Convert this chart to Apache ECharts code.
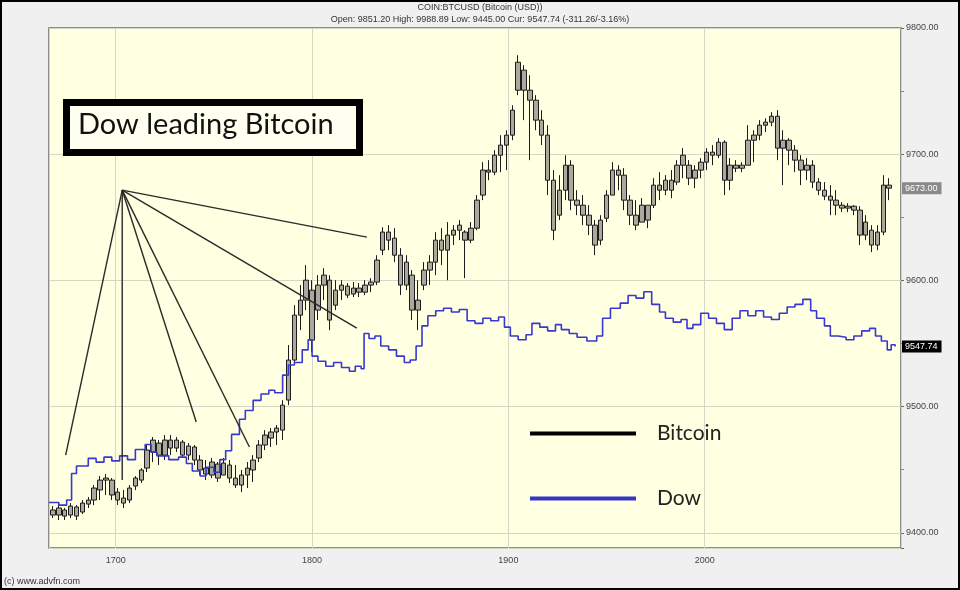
<!DOCTYPE html>
<html><head><meta charset="utf-8">
<script src="https://cdn.jsdelivr.net/npm/echarts@6/dist/echarts.min.js"></script>
<style>html,body{margin:0;padding:0;background:#f0f0f0}#chart{width:960px;height:590px}</style>
</head><body><div id="chart"></div>
<script>
// Bitcoin bars: [x, open, close, low, high]
const bitcoinBars = [
[1668,9418.1,9414.1,9411.7,9421.2],[1671,9414.1,9419.7,9410.2,9422.0],[1674,9418.1,9413.3,9410.2,9419.7],
[1677,9414.1,9421.2,9411.7,9423.6],[1680,9420.5,9413.3,9410.2,9422.0],[1683,9416.5,9423.6,9414.9,9426.0],
[1686,9422.8,9426.0,9419.7,9428.4],[1689,9426.0,9435.5,9422.0,9437.9],[1692,9434.0,9441.8,9426.0,9445.0],
[1695,9441.8,9443.4,9430.0,9446.6],[1698,9441.8,9430.0,9426.0,9443.4],[1701,9432.3,9426.0,9422.0,9435.5],
[1704,9427.6,9423.6,9419.7,9434.0],[1707,9426.0,9435.5,9423.6,9437.9],[1710,9437.1,9443.4,9433.9,9445.0],
[1713,9441.8,9449.8,9439.5,9451.3],[1716,9451.3,9465.6,9448.2,9469.6],[1719,9464.0,9473.5,9456.1,9475.9],
[1722,9471.1,9461.6,9453.7,9473.5],[1725,9461.6,9473.5,9457.7,9477.5],[1728,9473.5,9467.2,9461.6,9477.5],
[1731,9467.2,9473.5,9464.0,9475.9],[1734,9471.9,9461.6,9459.3,9473.5],[1737,9461.6,9468.8,9457.7,9471.1],
[1740,9468.0,9457.7,9453.7,9469.6],[1743,9457.7,9449.8,9445.8,9461.6],[1746,9451.3,9446.6,9441.8,9457.7],
[1749,9445.8,9456.1,9443.4,9459.3],[1752,9454.5,9443.4,9440.3,9456.1],[1755,9445.8,9455.3,9445.8,9459.3],
[1758,9453.7,9443.4,9439.5,9457.7],[1761,9443.4,9437.9,9435.5,9453.7],[1764,9437.9,9445.8,9432.3,9449.8],
[1767,9445.8,9451.3,9435.5,9456.1],[1770,9449.8,9457.7,9440.3,9461.6],[1773,9459.3,9469.6,9456.1,9473.5],
[1776,9469.6,9477.5,9465.6,9481.4],[1779,9475.1,9479.9,9468.0,9483.0],[1782,9479.9,9483.0,9469.6,9485.4],
[1785,9481.4,9501.2,9473.5,9505.2],[1788,9505.2,9536.9,9501.2,9548.8],[1791,9536.9,9572.5,9533.0,9580.4],
[1794,9572.5,9584.4,9560.6,9596.3],[1797,9584.4,9600.2,9576.5,9612.1],[1800,9592.3,9552.7,9543.2,9600.2],
[1803,9576.5,9596.3,9568.6,9604.2],[1806,9596.3,9604.2,9584.4,9609.7],[1809,9600.2,9568.6,9560.6,9604.2],
[1812,9580.4,9592.3,9576.5,9600.2],[1815,9592.3,9596.3,9584.4,9600.2],[1818,9595.5,9588.4,9586.0,9597.9],
[1821,9589.2,9593.9,9586.8,9598.7],[1824,9593.9,9590.7,9586.8,9597.9],[1827,9590.7,9596.3,9588.4,9600.2],
[1830,9596.3,9598.7,9590.7,9601.8],[1833,9598.7,9616.1,9596.3,9620.0],[1836,9624.0,9638.3,9620.0,9642.2],
[1839,9638.3,9631.9,9624.0,9643.8],[1842,9633.5,9620.0,9614.5,9641.4],[1845,9620.0,9596.3,9588.4,9625.6],
[1848,9596.3,9614.5,9592.3,9620.0],[1851,9604.2,9576.5,9568.6,9608.2],[1854,9576.5,9584.4,9560.6,9600.2],
[1857,9596.3,9608.2,9592.3,9614.5],[1860,9608.2,9614.5,9596.3,9620.0],[1863,9614.5,9631.9,9604.2,9638.3],
[1866,9631.9,9624.0,9612.1,9641.4],[1869,9624.0,9635.9,9600.2,9646.2],[1872,9635.9,9639.8,9628.0,9643.8],
[1875,9639.8,9643.8,9631.9,9647.8],[1878,9638.3,9631.9,9601.8,9639.8],[1881,9631.9,9641.4,9629.5,9646.2],
[1884,9641.4,9663.6,9639.8,9667.6],[1887,9667.6,9687.4,9663.6,9693.7],[1890,9687.4,9685.8,9679.4,9695.3],
[1893,9685.8,9699.2,9683.4,9703.2],[1896,9699.2,9707.2,9685.8,9715.1],[1899,9707.2,9715.1,9687.4,9719.0],
[1902,9715.1,9734.9,9711.1,9738.8],[1905,9750.7,9772.9,9746.8,9778.4],[1908,9766.6,9750.7,9727.0,9770.5],
[1911,9750.7,9742.8,9695.3,9762.6],[1914,9742.8,9727.0,9719.0,9746.8],[1917,9727.0,9715.1,9707.2,9734.9],
[1920,9715.1,9679.4,9667.6,9723.0],[1923,9679.4,9639.8,9631.9,9687.4],[1926,9651.7,9671.5,9647.8,9683.4],
[1929,9671.5,9691.3,9663.6,9699.2],[1932,9691.3,9663.6,9655.7,9695.3],[1935,9663.6,9659.6,9651.7,9671.5],
[1938,9659.6,9651.7,9643.8,9667.6],[1941,9651.7,9643.8,9635.9,9659.6],[1944,9643.8,9628.0,9620.0,9647.8],
[1947,9631.9,9647.8,9628.0,9651.7],[1950,9649.3,9667.6,9646.2,9671.5],[1953,9667.6,9687.4,9667.6,9693.7],
[1956,9687.4,9683.4,9671.5,9691.3],[1959,9683.4,9663.6,9655.7,9689.0],[1962,9663.6,9651.7,9643.8,9667.6],
[1965,9651.7,9643.8,9639.8,9663.6],[1968,9646.2,9659.6,9646.2,9665.2],[1971,9659.6,9647.8,9641.4,9659.6],
[1974,9659.6,9675.5,9657.3,9681.0],[1977,9675.5,9671.5,9663.6,9685.8],[1980,9671.5,9679.4,9667.6,9683.4],
[1983,9679.4,9671.5,9665.2,9687.4],[1986,9677.9,9691.3,9675.5,9695.3],[1989,9691.3,9699.2,9681.0,9704.8],
[1992,9691.3,9681.0,9675.5,9695.3],[1995,9681.0,9687.4,9673.1,9691.3],[1998,9687.4,9693.7,9681.0,9696.9],
[2001,9693.7,9701.6,9687.4,9704.8],[2004,9701.6,9699.2,9691.3,9707.2],[2007,9699.2,9709.5,9696.9,9712.7],
[2010,9709.5,9679.4,9667.6,9711.1],[2013,9679.4,9691.3,9671.5,9696.9],[2016,9691.3,9688.9,9685.8,9695.3],
[2019,9688.9,9691.3,9685.8,9693.7],[2022,9691.3,9711.1,9691.3,9723.0],[2025,9711.1,9715.1,9693.7,9719.0],
[2028,9715.1,9723.0,9711.1,9727.0],[2031,9723.0,9725.4,9717.5,9728.5],[2034,9725.4,9730.1,9722.2,9733.3],
[2037,9730.1,9704.8,9695.3,9734.9],[2040,9704.8,9711.1,9675.5,9719.0],[2043,9711.1,9703.2,9691.3,9712.7],
[2046,9703.2,9695.3,9685.8,9707.2],[2049,9695.3,9687.4,9675.5,9699.2],[2052,9687.4,9691.3,9679.4,9696.9],
[2055,9691.3,9677.9,9673.1,9695.3],[2058,9677.9,9671.5,9667.6,9681.0],[2061,9671.5,9666.8,9663.6,9677.9],
[2064,9666.8,9663.6,9651.7,9675.5],[2067,9663.6,9659.6,9651.7,9671.5],[2070,9659.6,9657.3,9654.1,9662.0],
[2073,9657.3,9658.8,9654.1,9661.2],[2076,9658.8,9655.7,9651.7,9659.6],[2079,9655.7,9635.9,9628.0,9658.8],
[2082,9635.9,9646.2,9631.9,9651.7],[2085,9639.8,9628.0,9622.4,9643.8],[2088,9628.0,9638.3,9624.0,9643.8],
[2091,9638.3,9675.5,9635.9,9683.4],[2094,9675.5,9673.1,9663.6,9681.0]
];
// Dow (scaled) step line: [x, value]
const dowSteps = [
[1666,9424],[1671,9422],[1675,9426],[1677.5,9447],[1680,9453],[1686,9459],[1690,9456],[1694,9460],[1698,9457],
[1702,9461],[1706,9458],[1710,9466],[1715,9470],[1718,9464],[1721,9461],[1727,9458],[1732,9460],[1736,9455],
[1739,9449],[1743,9445],[1746,9452],[1750,9448],[1753,9458],[1756,9465],[1759,9478],[1763,9490],[1766,9497],
[1770,9505],[1774,9510],[1778,9513],[1781,9511],[1785,9525],[1788,9533],[1791,9535],[1795,9545],[1798,9553],
[1800,9540],[1803,9536],[1807,9532],[1811,9535],[1815,9531],[1819,9528],[1822,9532],[1825,9530],[1826.5,9558],
[1829,9554],[1832,9556],[1835,9548],[1839,9545],[1843,9540],[1847,9535],[1850,9537],[1853,9548],[1856,9564],
[1859,9572],[1863,9576],[1867,9578],[1871,9575],[1875,9577],[1879,9568],[1883,9566],[1887,9570],[1891,9568],
[1895,9571],[1898,9563],[1901,9556],[1905,9553],[1909,9557],[1912,9566],[1916,9563],[1920,9560],[1924,9565],
[1927,9561],[1931,9558],[1935,9555],[1940,9552],[1945,9556],[1948,9570],[1952,9578],[1957,9582],[1961,9588],
[1965,9586],[1969,9591],[1973,9581],[1977,9575],[1980,9570],[1984,9567],[1988,9569],[1991,9562],[1994,9565],
[1998,9574],[2002,9570],[2006,9566],[2010,9561],[2014,9570],[2018,9576],[2022,9572],[2026,9576],[2030,9571],
[2034,9569],[2038,9574],[2042,9579],[2046,9581],[2050,9585],[2054,9576],[2057,9570],[2061,9564],[2064,9556],
[2068,9555],[2072,9553],[2076,9556],[2080,9560],[2084,9562],[2087,9556],[2090,9552],[2093,9545],[2095,9549],
[2097,9547.74]
];
// Hand-drawn fan lines: shared apex and end points
const trendApex = [1703.3, 9671.5];
const trendEnds = [[1674.5,9461.6],[1703.3,9441.8],[1741.0,9487.8],[1768.1,9468.0],[1822.8,9562.2],[1827.9,9634.3]];
const bitcoinLast = 9673.00;
const dowLast = 9547.74;
const headerTitle = 'COIN:BTCUSD (Bitcoin (USD))';
const headerStats = 'Open: 9851.20 High: 9988.89 Low: 9445.00 Cur: 9547.74 (-311.26/-3.16%)';
const annotationText = 'Dow leading Bitcoin';
const seriesNames = ['Bitcoin', 'Dow'];

const chart = echarts.init(document.getElementById('chart'));
const fanSeries = trendEnds.map(e => ({
  type: 'line', data: [trendApex, e], symbol: 'none', silent: true, z: 5,
  lineStyle: { color: '#2a2a2a', width: 1.4 }
}));
chart.setOption({
  animation: false,
  backgroundColor: '#f0f0f0',
  title: {
    text: headerTitle, subtext: headerStats, left: 'center', top: 1, itemGap: 3, padding: [2, 5],
    textStyle: { fontSize: 9, fontWeight: 'normal', color: '#333', fontFamily: 'Liberation Sans' },
    subtextStyle: { fontSize: 9, color: '#333', fontFamily: 'Liberation Sans' }
  },
  legend: {
    orient: 'vertical', left: 530, top: 423, padding: 0, itemWidth: 106, itemHeight: 4, itemGap: 44,
    selectedMode: false,
    textStyle: { fontSize: 21, color: '#222', fontFamily: 'Lato', padding: [0, 0, 0, 16] },
    data: [
      { name: seriesNames[0], icon: 'rect', itemStyle: { color: '#000', borderWidth: 0 } },
      { name: seriesNames[1], icon: 'rect', itemStyle: { color: '#3535c8', borderWidth: 0 } }
    ]
  },
  grid: { left: 49, right: 59, top: 28, bottom: 42, show: true, backgroundColor: '#ffffe1', borderColor: '#6a6a6a', borderWidth: 1.5 },
  xAxis: {
    type: 'value', min: 1666, max: 2100,
    axisLine: { show: false }, axisTick: { show: false },
    axisLabel: { showMinLabel: false, showMaxLabel: false, fontSize: 9, color: '#444', margin: 8, fontFamily: 'Liberation Sans',
      formatter: v => String(v) },
    splitLine: { lineStyle: { color: '#d6d6c4', width: 1 } }
  },
  yAxis: {
    type: 'value', position: 'right', min: 9388, max: 9800,
    axisLine: { show: false },
    axisTick: { show: true, length: 3, lineStyle: { color: '#666' } },
    minorTick: { show: true, splitNumber: 2, length: 3, lineStyle: { color: '#888' } },
    axisLabel: { showMinLabel: false, fontSize: 9, color: '#444', margin: 5, fontFamily: 'Liberation Sans',
      formatter: v => (v % 100 === 0 ? v.toFixed(2) : '') },
    splitLine: { lineStyle: { color: '#d6d6c4', width: 1 } }
  },
  series: [
    {
      name: seriesNames[0], type: 'candlestick', data: bitcoinBars, encode: { x: 0, y: [1, 2, 3, 4] },
      barWidth: 5, z: 3,
      itemStyle: { color: '#a9a99e', color0: '#a9a99e', borderColor: '#1c1c1c', borderColor0: '#1c1c1c', borderWidth: 1 },
      markLine: {
        silent: true, symbol: ['none', 'none'], lineStyle: { color: 'rgba(0,0,0,0)', width: 0 },
        label: { position: 'end', distance: 1, formatter: () => bitcoinLast.toFixed(2), backgroundColor: '#8a8a8a', color: '#fff',
          fontSize: 9, padding: [2, 4, 1, 3], fontFamily: 'Liberation Sans' },
        data: [{ yAxis: bitcoinLast }]
      }
    },
    {
      name: seriesNames[1], type: 'line', step: 'end', data: dowSteps, symbol: 'none', z: 4,
      lineStyle: { color: '#3838d0', width: 1.6 },
      markLine: {
        silent: true, symbol: ['none', 'none'], lineStyle: { color: 'rgba(0,0,0,0)', width: 0 },
        label: { position: 'end', distance: 1, formatter: () => dowLast.toFixed(2), backgroundColor: '#000', color: '#fff',
          fontSize: 9, padding: [2, 4, 1, 3], fontFamily: 'Liberation Sans' },
        data: [{ yAxis: dowLast }]
      }
    },
    ...fanSeries
  ],
  graphic: [
    { type: 'rect', z: 10, silent: true, shape: { x: 66.5, y: 102.5, width: 293, height: 50 },
      style: { fill: '#fffff0', stroke: '#000', lineWidth: 7 } },
    { type: 'text', z: 11, silent: true, left: 78, top: 110,
      style: { text: annotationText, font: '29px Lato', fill: '#111' } },
    { type: 'text', silent: true, left: 4, top: 577,
      style: { text: '(c) www.advfn.com', font: '9px "Liberation Sans"', fill: '#333' } },
    { type: 'rect', silent: true, z: 20, shape: { x: 1, y: 1, width: 958, height: 588 },
      style: { fill: 'none', stroke: '#000', lineWidth: 2 } }
  ]
});
</script></body></html>
